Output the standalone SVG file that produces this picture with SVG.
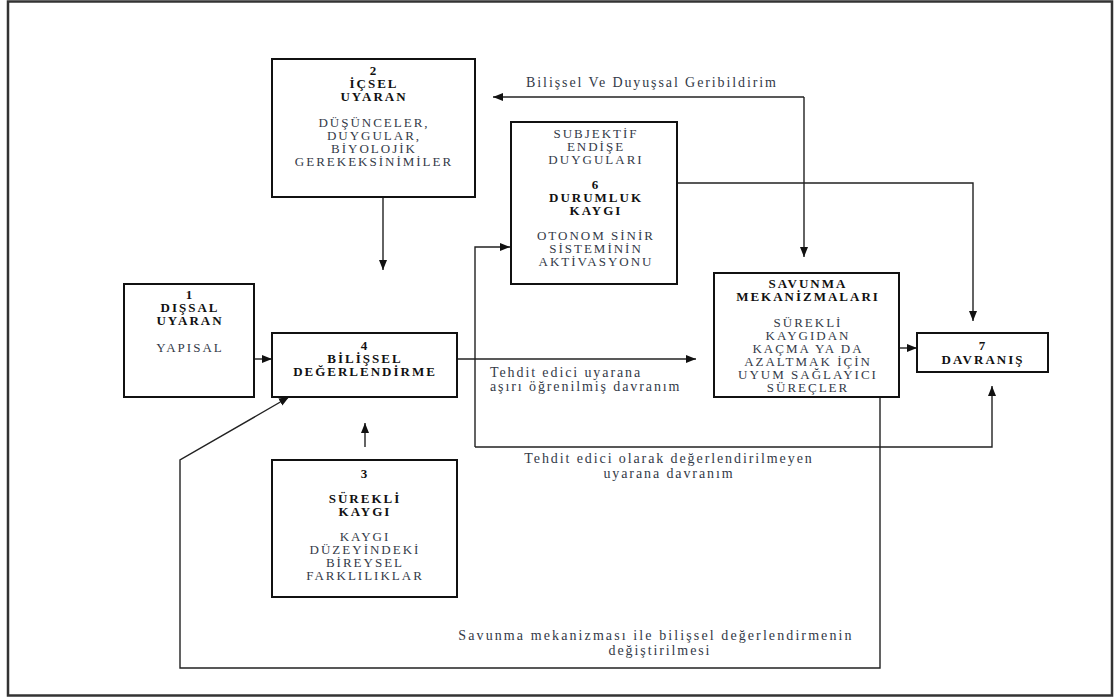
<svg xmlns="http://www.w3.org/2000/svg" width="1116" height="697" viewBox="0 0 1116 697">
<defs>
<marker id="arr" viewBox="0 0 10 10" refX="10" refY="5" markerWidth="10" markerHeight="10" markerUnits="userSpaceOnUse" orient="auto">
<path d="M0,1 L10,5 L0,9 z" fill="#111"/>
</marker>
</defs>
<style>
.box{fill:#fff;stroke:#111;stroke-width:2}
.t{font-family:"Liberation Serif","Times New Roman",serif;font-size:13px;text-anchor:middle;letter-spacing:2px}
.b{font-weight:bold;fill:#111}
.r{fill:#333a48}
.lbl{font-family:"Liberation Serif","Times New Roman",serif;font-size:14px;fill:#333a48;letter-spacing:1.9px}
.c{fill:none;stroke:#222;stroke-width:1.4}
.frame{fill:none;stroke:#333;stroke-width:2.5}
</style>
<rect x="0" y="0" width="1116" height="697" fill="#fff"/>
<rect class="frame" x="8" y="1.5" width="1104" height="694"/>

<g id="connectors">
<path class="c" d="M383,197 V270" marker-end="url(#arr)"/>
<path class="c" d="M804,97 H493" marker-end="url(#arr)"/>
<path class="c" d="M804,97 V257" marker-end="url(#arr)"/>
<path class="c" d="M677,183 H973 V321" marker-end="url(#arr)"/>
<path class="c" d="M475,447 V247 H510" marker-end="url(#arr)"/>
<path class="c" d="M475,447 H992 V386" marker-end="url(#arr)"/>
<path class="c" d="M457,359 H696" marker-end="url(#arr)"/>
<path class="c" d="M254,359 H272" marker-end="url(#arr)"/>
<path class="c" d="M365,447 V423" marker-end="url(#arr)"/>
<path class="c" d="M899,348 H917" marker-end="url(#arr)"/>
<path class="c" d="M880,397 V668 H180 V460 L289,397" marker-end="url(#arr)"/>
<text class="lbl" x="652" y="87" text-anchor="middle">Bilişsel Ve Duyuşsal Geribildirim</text>
<text class="lbl" x="490" y="377">Tehdit edici uyarana</text>
<text class="lbl" x="490" y="391">aşırı öğrenilmiş davranım</text>
<text class="lbl" x="669" y="463" text-anchor="middle">Tehdit edici olarak değerlendirilmeyen</text>
<text class="lbl" x="669" y="478" text-anchor="middle">uyarana davranım</text>
<text class="lbl" x="656" y="640" text-anchor="middle" style="letter-spacing:2.1px">Savunma mekanizması ile bilişsel değerlendirmenin</text>
<text class="lbl" x="660" y="655" text-anchor="middle">değiştirilmesi</text>
</g>

<g id="node2">
<rect class="box" x="272" y="59" width="203" height="138"/>
<text class="t b" x="374" y="75">2</text>
<text class="t b" x="374" y="88">İÇSEL</text>
<text class="t b" x="374" y="101">UYARAN</text>
<text class="t r" x="374" y="127">DÜŞÜNCELER,</text>
<text class="t r" x="374" y="140">DUYGULAR,</text>
<text class="t r" x="374" y="153">BİYOLOJİK</text>
<text class="t r" x="374" y="166">GEREKEKSİNİMİLER</text>
</g>

<g id="node6">
<rect class="box" x="511" y="122" width="166" height="162"/>
<text class="t r" x="596" y="138">SUBJEKTİF</text>
<text class="t r" x="596" y="151">ENDİŞE</text>
<text class="t r" x="596" y="164">DUYGULARI</text>
<text class="t b" x="596" y="189">6</text>
<text class="t b" x="596" y="202">DURUMLUK</text>
<text class="t b" x="596" y="215">KAYGI</text>
<text class="t r" x="596" y="240">OTONOM SİNİR</text>
<text class="t r" x="596" y="253">SİSTEMİNİN</text>
<text class="t r" x="596" y="266">AKTİVASYONU</text>
</g>

<g id="node1">
<rect class="box" x="124" y="284" width="130" height="113"/>
<text class="t b" x="190" y="299">1</text>
<text class="t b" x="190" y="312">DIŞSAL</text>
<text class="t b" x="190" y="325">UYARAN</text>
<text class="t r" x="190" y="352">YAPISAL</text>
</g>

<g id="node4">
<rect class="box" x="272" y="333" width="185" height="64"/>
<text class="t b" x="365" y="350">4</text>
<text class="t b" x="365" y="363">BİLİŞSEL</text>
<text class="t b" x="365" y="376">DEĞERLENDİRME</text>
</g>

<g id="node3">
<rect class="box" x="272" y="460" width="185" height="137"/>
<text class="t b" x="365" y="478">3</text>
<text class="t b" x="365" y="503">SÜREKLİ</text>
<text class="t b" x="365" y="516">KAYGI</text>
<text class="t r" x="365" y="541">KAYGI</text>
<text class="t r" x="365" y="554">DÜZEYİNDEKİ</text>
<text class="t r" x="365" y="567">BİREYSEL</text>
<text class="t r" x="365" y="580">FARKLILIKLAR</text>
</g>

<g id="node5">
<rect class="box" x="714" y="273" width="185" height="124"/>
<text class="t b" x="808" y="288">SAVUNMA</text>
<text class="t b" x="808" y="301">MEKANİZMALARI</text>
<text class="t r" x="808" y="327">SÜREKLİ</text>
<text class="t r" x="808" y="340">KAYGIDAN</text>
<text class="t r" x="808" y="353">KAÇMA YA DA</text>
<text class="t r" x="808" y="366">AZALTMAK İÇİN</text>
<text class="t r" x="808" y="379">UYUM SAĞLAYICI</text>
<text class="t r" x="808" y="392">SÜREÇLER</text>
</g>

<g id="node7">
<rect class="box" x="917" y="333" width="131" height="39"/>
<text class="t b" x="983" y="350">7</text>
<text class="t b" x="983" y="364">DAVRANIŞ</text>
</g>
</svg>
